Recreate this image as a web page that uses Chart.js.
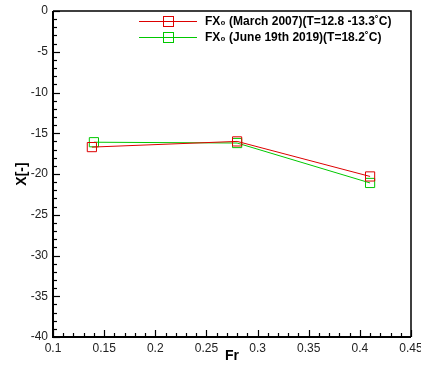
<!DOCTYPE html>
<html>
<head>
<meta charset="utf-8">
<script src="https://cdn.jsdelivr.net/npm/chart.js@4.4.0/dist/chart.umd.min.js"></script>
<style>
  body { margin: 0; background: #fff; }
  canvas { display: block; }
</style>
</head>
<body>
<canvas id="chart" width="421" height="370"></canvas>
<script>
// Froude number / X values for the two campaigns
const frMarch = [0.138, 0.28, 0.41];
const xMarch = [-16.7, -16.0, -20.3];
const frJune = [0.14, 0.28, 0.41];
const xJune = [-16.1, -16.2, -21.1];

const seriesLabels = [
  'FX\u2080 (March 2007)(T=12.8 -13.3\u02DAC)',
  'FX\u2080 (June 19th 2019)(T=18.2\u02DAC)',
];
const seriesColors = ['#dd0000', '#00c800'];

// tick values
const frTicks = [0.1, 0.15, 0.2, 0.25, 0.3, 0.35, 0.4, 0.45];
const xTicks = [0, -5, -10, -15, -20, -25, -30, -35, -40];

const toPoints = (xs, ys) => xs.map((v, i) => ({ x: v, y: ys[i] }));

// box around the plot + small inward ticks like the old plotting tool
const frameTicks = {
  id: 'frameTicks',
  afterDraw(chart) {
    const { ctx, chartArea: a, scales: { x, y } } = chart;
    ctx.save();
    ctx.lineWidth = 1.5;
    ctx.strokeStyle = '#000';
    ctx.beginPath();
    ctx.moveTo(a.left, a.top);
    ctx.lineTo(a.right, a.top);
    ctx.lineTo(a.right, a.bottom);
    ctx.stroke();
    ctx.lineWidth = 2;
    ctx.beginPath();
    ctx.moveTo(a.left, a.top);
    ctx.lineTo(a.left, a.bottom);
    ctx.lineTo(a.right, a.bottom);
    ctx.stroke();

    ctx.lineWidth = 1.2;
    for (let i = 10; i <= 45; i++) {
      const px = Math.round(x.getPixelForValue(i / 100)) + 0.5;
      const len = i % 5 === 0 ? 7 : 4;
      ctx.beginPath();
      ctx.moveTo(px, a.bottom);
      ctx.lineTo(px, a.bottom - len);
      ctx.stroke();
    }
    for (let v = -40; v <= 0; v++) {
      const py = Math.round(y.getPixelForValue(v)) + 0.5;
      const len = v % 5 === 0 ? 7 : 4;
      ctx.beginPath();
      ctx.moveTo(a.left, py);
      ctx.lineTo(a.left + len, py);
      ctx.stroke();
    }
    ctx.restore();
  }
};

// legend: line with a square symbol, then the label
const lineLegend = {
  id: 'lineLegend',
  afterDraw(chart) {
    const ctx = chart.ctx;
    ctx.save();
    ctx.font = 'bold 12px "Liberation Sans", Arial, sans-serif';
    ctx.textBaseline = 'middle';
    chart.data.datasets.forEach((ds, i) => {
      const yy = 21.5 + 16 * i;
      ctx.strokeStyle = ds.borderColor;
      ctx.lineWidth = 1;
      ctx.beginPath();
      ctx.moveTo(139, yy);
      ctx.lineTo(197, yy);
      ctx.stroke();
      ctx.strokeRect(163.5, yy - 5, 10, 10);
      ctx.fillStyle = '#000';
      ctx.fillText(ds.label, 205, yy);
    });
    ctx.restore();
  }
};

const makeSet = (label, color, pts) => ({
  label: label,
  data: pts,
  showLine: true,
  borderColor: color,
  borderWidth: 1,
  pointStyle: 'rect',
  pointRadius: 6.5,
  pointHoverRadius: 6.5,
  pointBackgroundColor: 'rgba(0,0,0,0)',
  pointBorderColor: color,
  pointBorderWidth: 1,
  tension: 0,
});

const tickFont = { family: '"Liberation Sans", Arial, sans-serif', size: 12 };
const titleFont = { family: '"Liberation Sans", Arial, sans-serif', size: 14, weight: 'bold' };

new Chart(document.getElementById('chart'), {
  type: 'scatter',
  data: {
    datasets: [
      makeSet(seriesLabels[0], seriesColors[0], toPoints(frMarch, xMarch)),
      makeSet(seriesLabels[1], seriesColors[1], toPoints(frJune, xJune)),
    ],
  },
  options: {
    responsive: false,
    animation: false,
    layout: { padding: { top: 11, right: 10, left: 0, bottom: 0 } },
    plugins: {
      legend: { display: false },
      tooltip: { enabled: false },
    },
    scales: {
      x: {
        type: 'linear',
        min: 0.1,
        max: 0.45,
        afterBuildTicks: (s) => { s.ticks = frTicks.map((v) => ({ value: v })); },
        afterFit: (s) => { s.height = 33; s.paddingRight = 0; s.paddingLeft = 0; },
        grid: { display: false, drawTicks: false },
        border: { display: false },
        ticks: {
          font: tickFont,
          color: '#222',
          padding: 4,
          maxRotation: 0,
          autoSkip: false,
          callback: (v) => String(Number(v.toFixed(2))),
        },
        title: { display: true, text: 'Fr', font: titleFont, color: '#000', padding: { top: 0, bottom: 5 } },
      },
      y: {
        type: 'linear',
        min: -40,
        max: 0,
        afterBuildTicks: (s) => { s.ticks = xTicks.map((v) => ({ value: v })); },
        afterFit: (s) => { s.width = 53; s.paddingTop = 0; s.paddingBottom = 0; },
        grid: { display: false, drawTicks: false },
        border: { display: false },
        ticks: {
          font: tickFont,
          color: '#222',
          padding: 5,
          autoSkip: false,
        },
        title: { display: true, text: 'X[-]', font: titleFont, color: '#000', padding: { top: 14, bottom: 0 } },
      },
    },
  },
  plugins: [frameTicks, lineLegend],
});
</script>
</body>
</html>
